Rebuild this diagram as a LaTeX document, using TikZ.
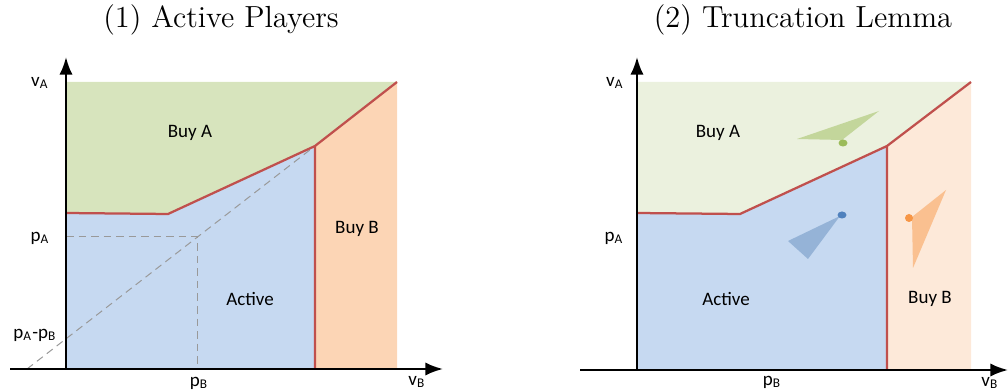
\documentclass[tikz,border=0pt]{standalone}
\usepackage{fontspec}
\setsansfont{Carlito}
\usepackage{xcolor}
\usetikzlibrary{arrows.meta}
\definecolor{buyA}{HTML}{D7E4BD}
\definecolor{buyAlt}{HTML}{EBF1DE}
\definecolor{buyB}{HTML}{FCD5B5}
\definecolor{buyBlt}{HTML}{FDE9D9}
\definecolor{active}{HTML}{C6D9F1}
\definecolor{bred}{HTML}{C0504D}
\definecolor{trigA}{HTML}{C3D69B}
\definecolor{trigAct}{HTML}{95B3D7}
\definecolor{trigB}{HTML}{FAC090}
\definecolor{dotA}{HTML}{9BBB59}
\definecolor{dotAct}{HTML}{4F81BD}
\definecolor{dotB}{HTML}{F79646}

\begin{document}
\begin{tikzpicture}[x=0.4pt,y=-0.4pt,>=Latex]
\tikzstyle{lbl}=[font=\sffamily\fontsize{7.6}{9}\selectfont,inner sep=1pt]
\tikzstyle{ttl}=[font=\fontsize{12.2}{14}\selectfont,inner sep=0pt]
\tikzstyle{axis}=[line width=0.9pt,->]
\tikzstyle{bnd}=[draw=bred,line width=0.9pt]
\tikzstyle{guide}=[dash pattern=on 3pt off 2pt,gray!80,line width=0.4pt]
\useasboundingbox (0,0) rectangle (1008,392);
\coordinate (oa) at (66,369);
\coordinate (ka) at (168,214);
\coordinate (la) at (315,146);
\coordinate (ta) at (397,82);
\coordinate (sa) at (66,213);
\coordinate (ua) at (66,82);
\coordinate (pa) at (197,237);
\fill[buyA] (ua) -- (ta) -- (la) -- (ka) -- (sa) -- cycle;
\fill[active] (sa) -- (ka) -- (la) -- (315,369) -- (oa) -- cycle;
\fill[buyB] (la) -- (ta) -- (397,369) -- (315,369) -- cycle;
\draw[guide] (27,369) -- (la);
\draw[guide] (66,237) -- (pa) -- (197,369);
\draw[bnd] (sa) -- (ka) -- (la) -- (ta) (la) -- (315,369);
\draw[axis] (10,369) -- (443,369);
\draw[axis] (oa) -- (66,57);
\node[ttl] (t1) at (221,20) {(1) Active Players};
\node[lbl] (va1) at (40,83) {v\textsubscript{A}};
\node[lbl] (pa1) at (40,238) {p\textsubscript{A}};
\node[lbl] (pd1) at (35,335) {p\textsubscript{A}-p\textsubscript{B}};
\node[lbl] (pb1) at (199,383) {p\textsubscript{B}};
\node[lbl] (vb1) at (417,382) {v\textsubscript{B}};
\node[lbl] (ba1) at (190,133) {Buy A};
\node[lbl] (bb1) at (357,229) {Buy B};
\node[lbl] (ac1) at (250,299) {Active};
\coordinate (ob) at (637,370);
\coordinate (kb) at (740,214);
\coordinate (lb) at (887,146);
\coordinate (tb) at (971,82);
\coordinate (sb) at (637,213);
\coordinate (ub) at (637,82);
\fill[buyAlt] (ub) -- (tb) -- (lb) -- (kb) -- (sb) -- cycle;
\fill[active] (sb) -- (kb) -- (lb) -- (887,370) -- (ob) -- cycle;
\fill[buyBlt] (lb) -- (tb) -- (971,370) -- (887,370) -- cycle;
\fill[trigA] (797,139) -- (879,111) -- (842,140) -- cycle;
\fill[trigAct] (788,241) -- (808,259) -- (840,216) -- cycle;
\fill[trigB] (912,217) -- (946,190) -- (913,268) -- cycle;
\fill[dotA] (843,143) ellipse (4.5 and 3.5);
\fill[dotAct] (842,215) ellipse (4.5 and 3.5);
\fill[dotB] (909,218) ellipse (4 and 4);
\draw[bnd] (sb) -- (kb) -- (lb) -- (tb) (lb) -- (887,370);
\draw[axis] (580,370) -- (1008,370);
\draw[axis] (ob) -- (637,57);
\node[ttl] (t2) at (803,20) {(2) Truncation Lemma};
\node[lbl] (va2) at (615,83) {v\textsubscript{A}};
\node[lbl] (pa2) at (614,238) {p\textsubscript{A}};
\node[lbl] (pb2) at (772,382) {p\textsubscript{B}};
\node[lbl] (vb2) at (990,383) {v\textsubscript{B}};
\node[lbl] (ba2) at (718,133) {Buy A};
\node[lbl] (bb2) at (930,299) {Buy B};
\node[lbl] (ac2) at (726,299) {Active};
\end{tikzpicture}
\end{document}
